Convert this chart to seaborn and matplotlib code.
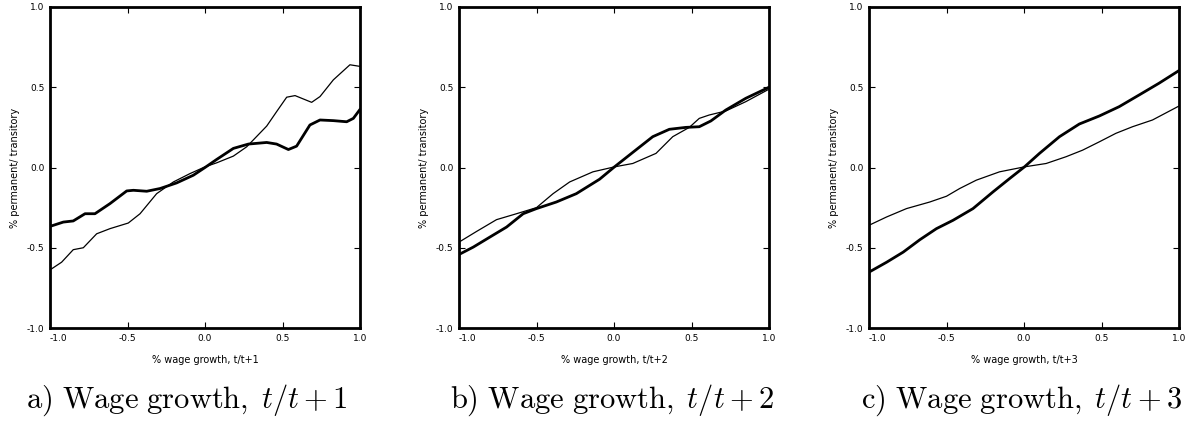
import numpy as np
import pandas as pd
import seaborn as sns
import matplotlib.pyplot as plt

# values (x = % wage growth, y = % permanent/transitory)
a_thick_x = [-1.0, -0.914, -0.85, -0.774, -0.71, -0.613, -0.505, -0.462, -0.376, -0.29, -0.183, -0.075,
             0.0, 0.075, 0.183, 0.28, 0.398, 0.462, 0.538, 0.591, 0.677, 0.742, 0.828, 0.914, 0.957, 1.0]
a_thick_y = [-0.367, -0.34, -0.333, -0.288, -0.288, -0.225, -0.146, -0.142, -0.148, -0.131, -0.096, -0.048,
             0.0, 0.05, 0.119, 0.146, 0.156, 0.146, 0.112, 0.133, 0.265, 0.296, 0.292, 0.285, 0.306, 0.362]
a_thin_x = [-1.0, -0.925, -0.85, -0.785, -0.699, -0.613, -0.495, -0.419, -0.312, -0.204, -0.097, 0.0,
            0.075, 0.183, 0.269, 0.398, 0.462, 0.527, 0.581, 0.688, 0.742, 0.828, 0.935, 1.0]
a_thin_y = [-0.638, -0.59, -0.512, -0.5, -0.413, -0.381, -0.346, -0.288, -0.163, -0.09, -0.038, 0.004,
            0.029, 0.071, 0.129, 0.258, 0.348, 0.438, 0.448, 0.406, 0.442, 0.546, 0.64, 0.63]

b_thick_x = [-1.0, -0.908, -0.8, -0.693, -0.586, -0.5, -0.372, -0.243, -0.093, 0.003, 0.121, 0.25,
             0.357, 0.464, 0.55, 0.625, 0.721, 0.85, 1.0]
b_thick_y = [-0.542, -0.496, -0.433, -0.371, -0.288, -0.256, -0.215, -0.163, -0.073, 0.004, 0.094, 0.192,
             0.238, 0.25, 0.254, 0.29, 0.358, 0.431, 0.5]
b_thin_x = [-1.0, -0.886, -0.758, -0.629, -0.5, -0.393, -0.286, -0.136, 0.003, 0.121, 0.271, 0.379,
            0.486, 0.55, 0.614, 0.721, 0.85, 1.0]
b_thin_y = [-0.465, -0.398, -0.325, -0.288, -0.25, -0.163, -0.09, -0.027, 0.004, 0.025, 0.088, 0.192,
            0.25, 0.306, 0.327, 0.352, 0.41, 0.488]

c_thick_x = [-1.0, -0.886, -0.779, -0.672, -0.565, -0.458, -0.329, -0.2, -0.093, 0.003, 0.1, 0.229,
             0.357, 0.486, 0.614, 0.743, 0.871, 1.0]
c_thick_y = [-0.652, -0.59, -0.527, -0.45, -0.381, -0.329, -0.256, -0.152, -0.069, 0.004, 0.088, 0.192,
             0.271, 0.321, 0.379, 0.452, 0.525, 0.604]
c_thin_x = [-1.0, -0.886, -0.758, -0.608, -0.5, -0.415, -0.308, -0.158, 0.003, 0.143, 0.271, 0.378,
            0.486, 0.593, 0.7, 0.829, 1.0]
c_thin_y = [-0.36, -0.308, -0.256, -0.215, -0.179, -0.131, -0.079, -0.027, 0.004, 0.025, 0.067, 0.108,
            0.16, 0.213, 0.254, 0.296, 0.383]

xlabels = ["% wage growth, t/t+1", "% wage growth, t/t+2", "% wage growth, t/t+3"]
captions = [r"$\mathrm{a)\ Wage\ growth,}\;t/t+1$",
            r"$\mathrm{b)\ Wage\ growth,}\;t/t+2$",
            r"$\mathrm{c)\ Wage\ growth,}\;t/t+3$"]
ticks = [-1.0, -0.5, 0.0, 0.5, 1.0]
tick_labels = ["-1.0", "-0.5", "0.0", "0.5", "1.0"]

panels = [(a_thick_x, a_thick_y, a_thin_x, a_thin_y),
          (b_thick_x, b_thick_y, b_thin_x, b_thin_y),
          (c_thick_x, c_thick_y, c_thin_x, c_thin_y)]

sns.set_style("ticks", {'axes.edgecolor': 'black', 'xtick.color': 'black', 'ytick.color': 'black',
                        'text.color': 'black', 'axes.labelcolor': 'black'})
plt.rcParams['font.family'] = ['DejaVu Sans']
plt.rcParams['mathtext.fontset'] = 'cm'

fig = plt.figure(figsize=(11.97, 4.25), dpi=100)
lefts = [50, 459, 869]
cap_x = [187, 612, 1022]

for i, (tkx, tky, tnx, tny) in enumerate(panels):
    ax = fig.add_axes([lefts[i] / 1197, 1 - 328 / 425, 310 / 1197, 321 / 425])
    thick = pd.DataFrame({'x': tkx, 'y': tky})
    thin = pd.DataFrame({'x': tnx, 'y': tny})
    sns.lineplot(data=thick, x='x', y='y', ax=ax, color='black', lw=2.0, sort=False, estimator=None)
    sns.lineplot(data=thin, x='x', y='y', ax=ax, color='black', lw=0.9, sort=False, estimator=None)
    ax.set_xlim(-1, 1)
    ax.set_ylim(-1, 1)
    ax.set_xticks(ticks)
    ax.set_yticks(ticks)
    ax.set_xticklabels(tick_labels, fontsize=6.5)
    ax.set_yticklabels(tick_labels, fontsize=6.5)
    ax.get_xticklabels()[0].set_ha('left')
    ax.tick_params(direction='in', length=4, width=0.8, top=True, right=True, pad=4)
    for s in ax.spines.values():
        s.set_linewidth(2.0)
        s.set_visible(True)
    ax.set_xlabel(xlabels[i], fontsize=7, labelpad=9)
    ax.set_ylabel("% permanent/ transitory", fontsize=7, labelpad=5)
    fig.text(cap_x[i] / 1197, 1 - 400 / 425, captions[i], ha='center', va='center', fontsize=22)

fig.savefig("out.png", dpi=100)
